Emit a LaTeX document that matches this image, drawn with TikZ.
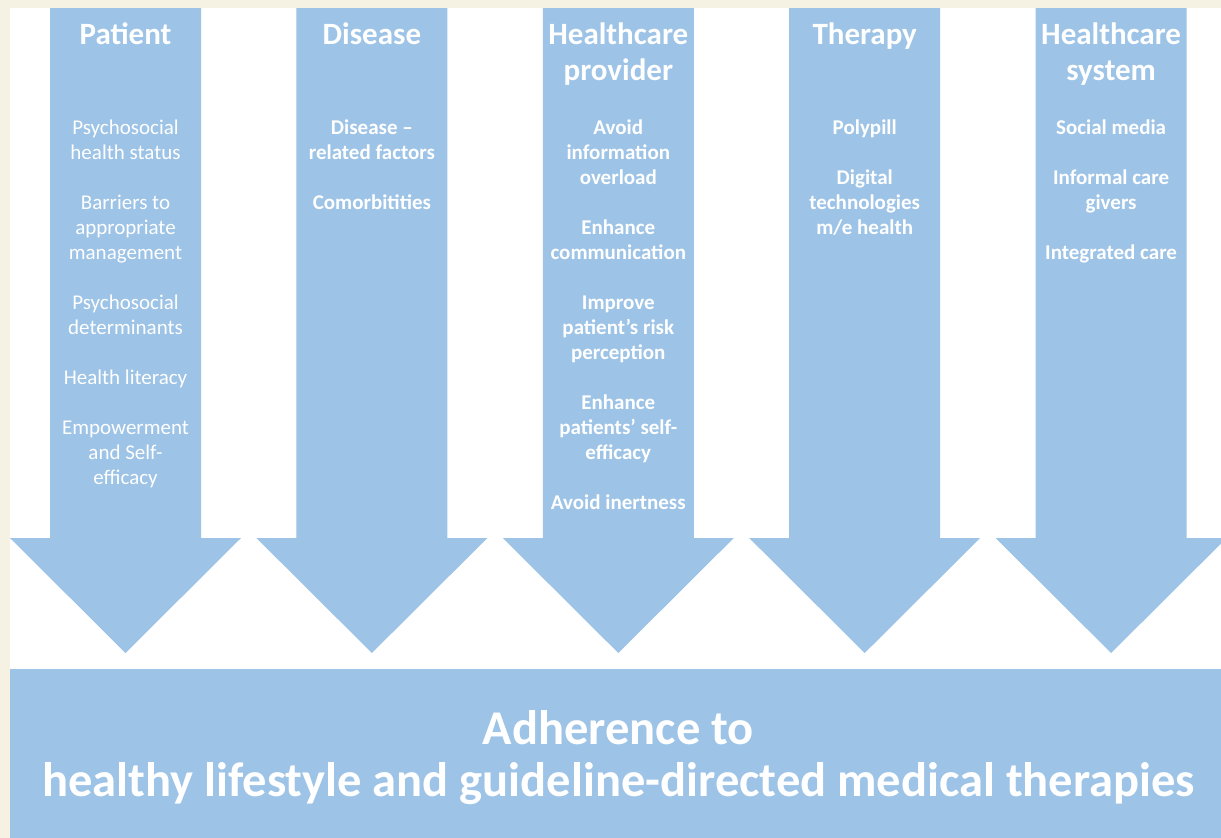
\documentclass[tikz,border=0pt]{standalone}
\usepackage{fontspec}
\setmainfont{Carlito}
\definecolor{arrowblue}{HTML}{9DC3E6}
\definecolor{cream}{HTML}{F5F1E3}
\tikzset{
  arrowshape/.style={fill=arrowblue, draw=none},
  titletext/.style={text=white, inner sep=0pt, anchor=base, font=\bfseries\fontsize{31}{36.7}\selectfont},
  itemtext/.style={text=white, inner sep=0pt, anchor=base, font=\bfseries\fontsize{21}{25}\selectfont},
  itemtextreg/.style={text=white, inner sep=0pt, anchor=base, font=\fontsize{21}{25}\selectfont},
  bigtext/.style={text=white, inner sep=0pt, anchor=base, font=\bfseries\fontsize{48.5}{52.3}\selectfont},
}
\newcommand{\colt}[1]{\begin{tabular}[t]{@{}c@{}}#1\end{tabular}}
\begin{document}
\begin{tikzpicture}[x=1pt,y=-1pt]
\useasboundingbox (0,0) rectangle (1221,838);
\begin{scope}
\clip (0,0) rectangle (1221,838);
\fill[cream] (0,0) rectangle (1221,838);
\fill[white] (10,8) rectangle (1221,838);
\foreach \i in {0,...,4} {
  \pgfmathsetmacro\cx{125.5+246.4*\i}
  \fill[arrowshape] (\cx-75.5,8) -- (\cx+75.5,8) -- (\cx+75.5,538) -- (\cx+115.5,538)
     -- (\cx,653) -- (\cx-115.5,538) -- (\cx-75.5,538) -- cycle;
}
\fill[arrowshape] (10,669) rectangle (1221,838);
\end{scope}
% titles
\node[titletext] (t1) at (125.5,44) {\colt{Patient}};
\node[titletext] (t2) at (371.9,44) {\colt{Disease}};
\node[titletext] (t3) at (618.3,44) {\colt{Healthcare\\provider}};
\node[titletext] (t4) at (864.7,44) {\colt{Therapy}};
\node[titletext] (t5) at (1111.1,44) {\colt{Healthcare\\system}};
% items
\node[itemtextreg] (i1) at (125.5,134) {\colt{Psychosocial\\health status\\ \\Barriers to\\appropriate\\management\\ \\Psychosocial\\determinants\\ \\Health literacy\\ \\Empowerment\\and Self-\\efficacy}};
\node[itemtext] (i2) at (371.9,134) {\colt{Disease --\\related factors\\ \\Comorbitities}};
\node[itemtext] (i3) at (618.3,134) {\colt{Avoid\\information\\overload\\ \\Enhance\\communication\\ \\Improve\\patient’s risk\\perception\\ \\Enhance\\patients’ self-\\efficacy\\ \\Avoid inertness}};
\node[itemtext] (i4) at (864.7,134) {\colt{Polypill\\ \\Digital\\technologies\\m/e health}};
\node[itemtext] (i5) at (1111.1,134) {\colt{Social media\\ \\Informal care\\givers\\ \\Integrated care}};
% bottom
\node[bigtext] (b) at (618.5,744.5) {\colt{Adherence to\\healthy lifestyle and guideline-directed medical therapies}};
\end{tikzpicture}
\end{document}
